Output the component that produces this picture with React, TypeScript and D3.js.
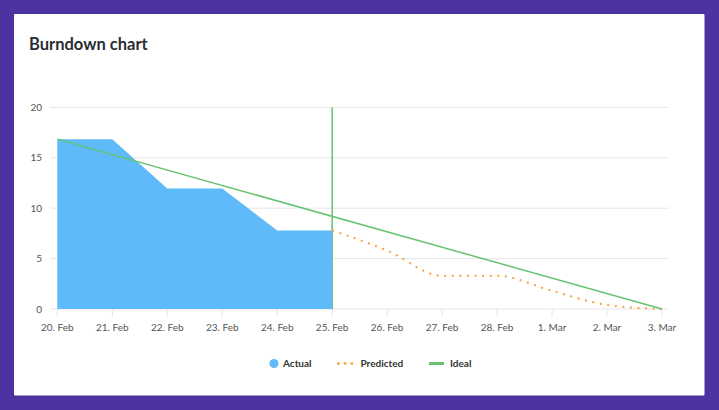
import React from "react";
import * as d3 from "d3";

const dates = ["2021-02-20","2021-02-21","2021-02-22","2021-02-23","2021-02-24","2021-02-25","2021-02-26","2021-02-27","2021-02-28","2021-03-01","2021-03-02","2021-03-03"];
const tickLabels = ["20. Feb","21. Feb","22. Feb","23. Feb","24. Feb","25. Feb","26. Feb","27. Feb","28. Feb","1. Mar","2. Mar","3. Mar"];
const actualValues = [16.85, 16.85, 11.95, 11.95, 7.8, 7.8];
const predictedValues = [7.8, 5.8, 3.3, 3.3, 1.8, 0.4, 0];
const idealValues = [16.85, 0];
const yTicks = [0, 5, 10, 15, 20];
const todayIndex = 5;

const W = 719, H = 410;
const FONT = "Lato, 'Open Sans', sans-serif";

export default function App() {
  const parse = d3.utcParse("%Y-%m-%d");
  const dts = dates.map((d) => parse(d) as Date);
  const x = d3.scaleUtc().domain([dts[0], dts[dts.length - 1]]).range([57.3, 662]);
  const y = d3.scaleLinear().domain([0, 20]).range([309, 107.4]);
  const gridX0 = 50, gridX1 = 669;

  const actualData = actualValues.map((v, i) => ({ d: dts[i], v }));
  const predData = predictedValues.map((v, i) => ({ d: dts[todayIndex + i], v }));
  const idealData = [{ d: dts[0], v: idealValues[0] }, { d: dts[dts.length - 1], v: idealValues[1] }];

  const area = d3.area<{ d: Date; v: number }>().x((p) => x(p.d)).y0(y(0)).y1((p) => y(p.v));
  const predLine = d3.line<{ d: Date; v: number }>().x((p) => x(p.d)).y((p) => y(p.v)).curve(d3.curveMonotoneX);
  const line = d3.line<{ d: Date; v: number }>().x((p) => x(p.d)).y((p) => y(p.v));

  const blue = "#5EBAF8";
  const green = "#66C26F";
  const orange = "#F7A238";

  return (
    <svg width={W} height={H} style={{ position: "absolute", left: 0, top: 0, display: "block" }}>
      <rect x={0} y={0} width={W} height={H} fill="#4C33A1" />
      <rect x={14} y={14} width={690.5} height={381.5} fill="#ffffff" rx={1} />
      <text x={29} y={50} fontFamily={FONT} fontWeight={700} fontSize={16.5} fill="#2B2D33">Burndown chart</text>

      {yTicks.map((t) => (
        <g key={t}>
          <line x1={gridX0} x2={gridX1} y1={y(t)} y2={y(t)} stroke="#E6E6E6" strokeWidth={1} />
          <text x={42} y={y(t) + 3.5} textAnchor="end" fontFamily={FONT} fontSize={10} fill="#555">{t}</text>
        </g>
      ))}
      {dts.map((d, i) => (
        <g key={i}>
          <line x1={x(d)} x2={x(d)} y1={y(0)} y2={y(0) + 8} stroke="#E6E6E6" strokeWidth={1} />
          <text x={x(d)} y={331} textAnchor="middle" fontFamily={FONT} fontSize={10} fill="#555">{tickLabels[i]}</text>
        </g>
      ))}

      <line x1={x(dts[todayIndex])} x2={x(dts[todayIndex])} y1={y(20)} y2={y(0)} stroke={green} strokeWidth={1.5} />
      <path d={area(actualData) ?? ""} fill={blue} />
      <path d={predLine(predData) ?? ""} fill="none" stroke={orange} strokeWidth={2} strokeDasharray="2,5.6" />
      <path d={line(idealData) ?? ""} fill="none" stroke={green} strokeWidth={1.5} />

      <g fontFamily={FONT} fontSize={10} fontWeight={700} fill="#333">
        <circle cx={274} cy={363.5} r={4.5} fill={blue} />
        <text x={283} y={367}>Actual</text>
        <line x1={337} x2={355} y1={363.5} y2={363.5} stroke={orange} strokeWidth={2.5} strokeDasharray="2.5,4.3" />
        <text x={360.5} y={367}>Predicted</text>
        <line x1={429} x2={444} y1={363.5} y2={363.5} stroke={green} strokeWidth={3} />
        <text x={450} y={367}>Ideal</text>
      </g>
    </svg>
  );
}
